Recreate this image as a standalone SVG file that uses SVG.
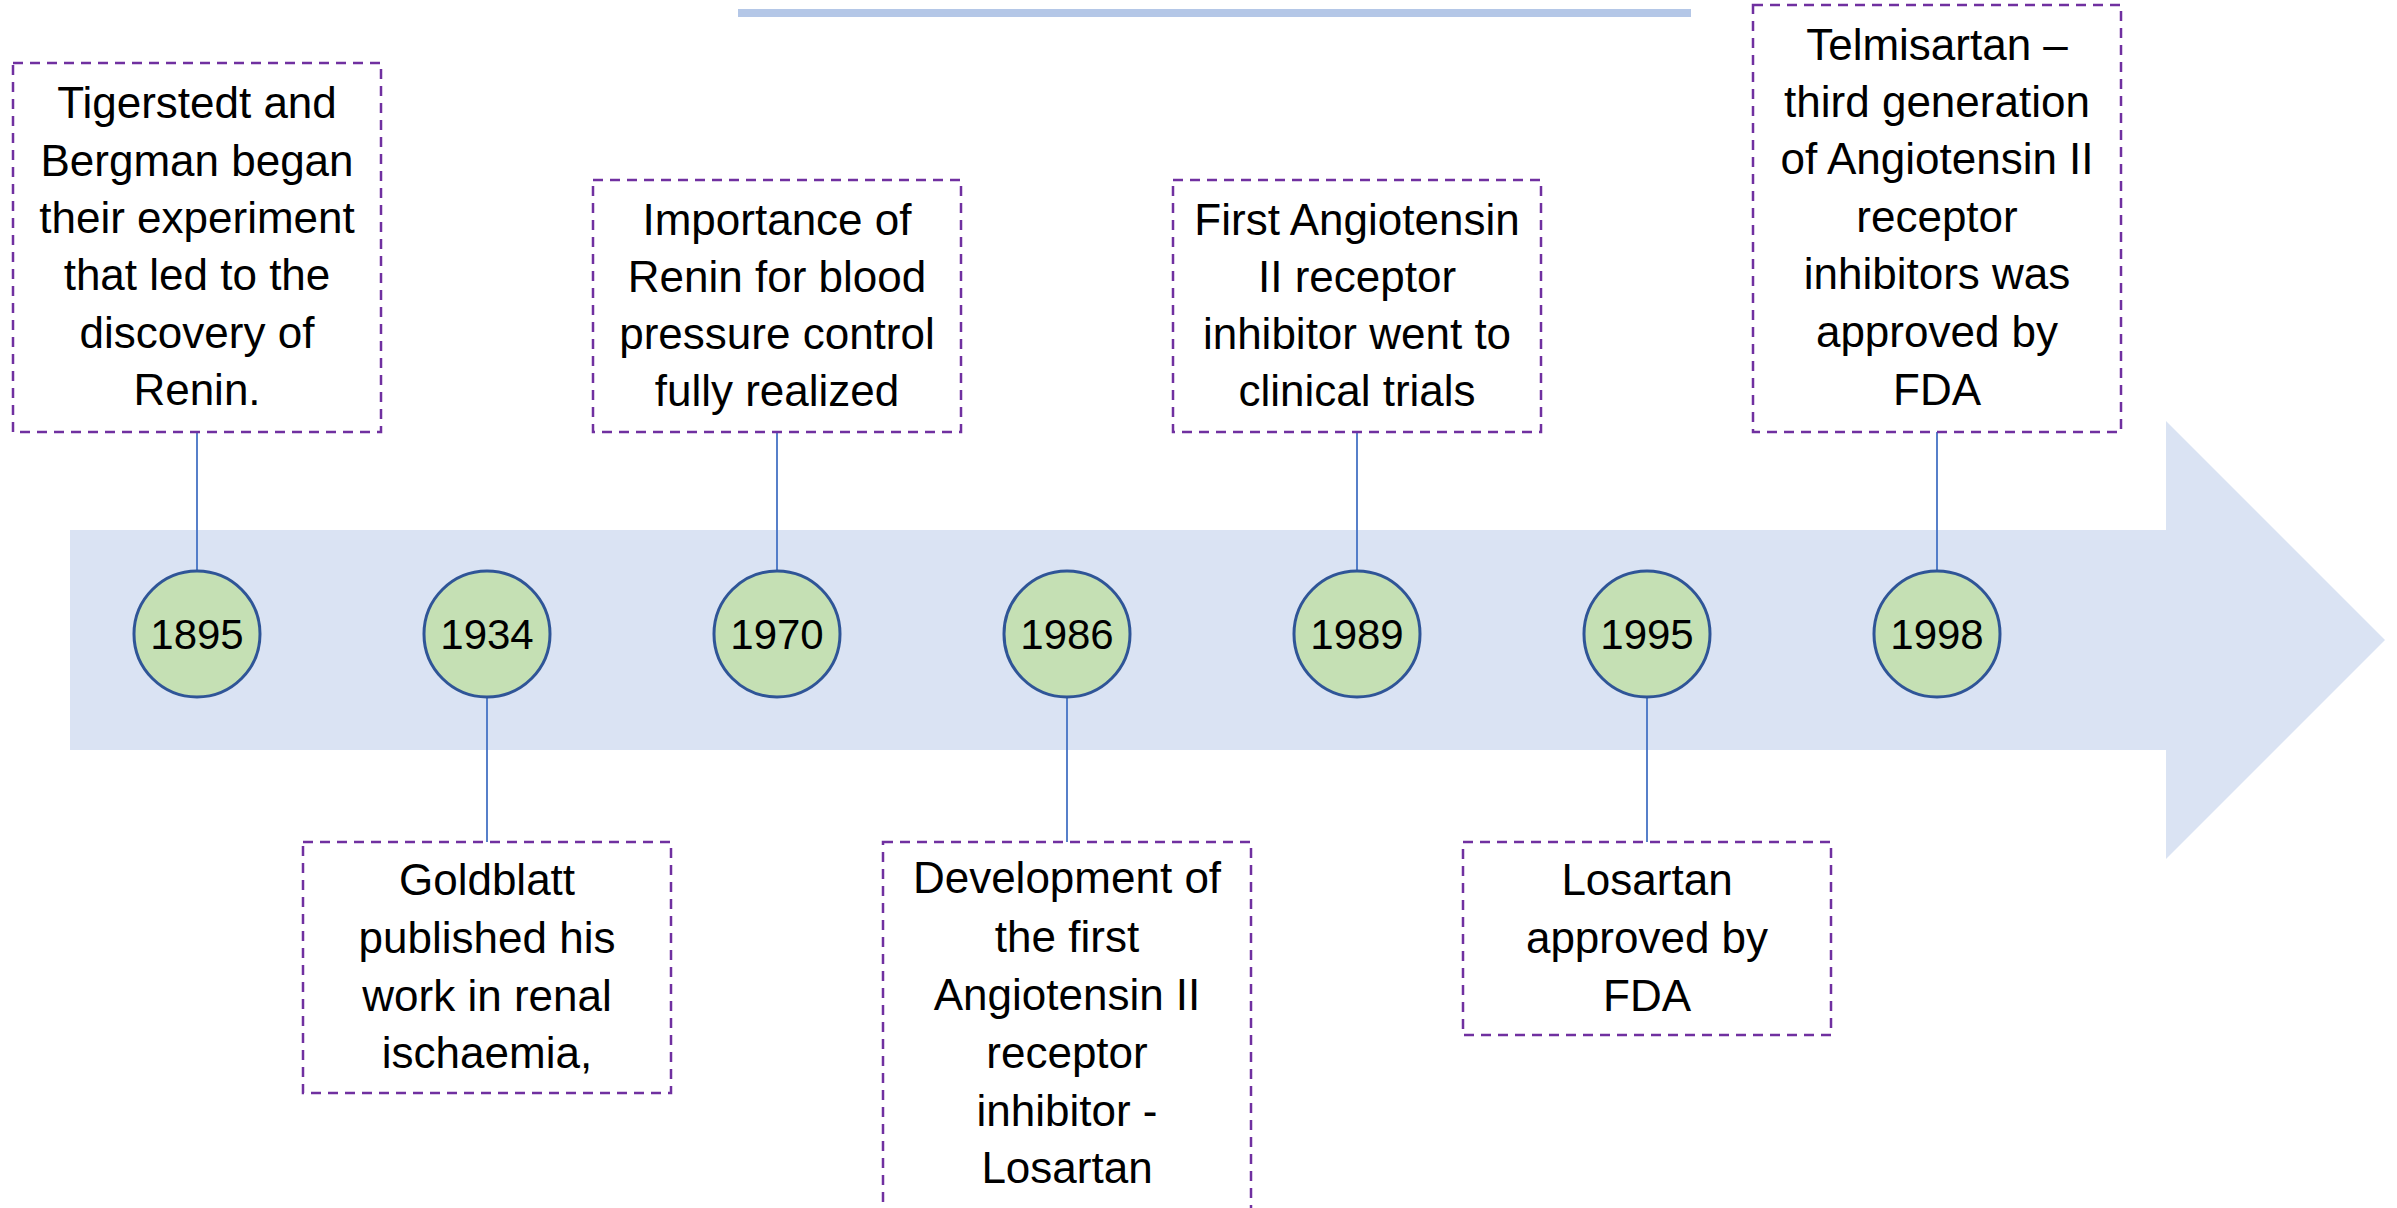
<svg xmlns="http://www.w3.org/2000/svg" width="2397" height="1208" viewBox="0 0 2397 1208">
<style>
.box{fill:#ffffff;stroke:#7030A0;stroke-width:2.5;stroke-dasharray:10 7}
.txt{font-family:"Liberation Sans",Arial,sans-serif;font-size:44px;fill:#000;text-anchor:middle}
.yr{font-family:"Liberation Sans",Arial,sans-serif;font-size:42px;fill:#000;text-anchor:middle}
.dot{fill:#C5E0B4;stroke:#2F5597;stroke-width:3}
.conn{stroke:#4472C4;stroke-width:1.8;fill:none}
</style>
<rect x="0" y="0" width="2397" height="1208" fill="#ffffff"/>
<rect id="topbar" x="738" y="9" width="953" height="8" fill="#B4C7E7"/>
<polygon id="timeline-arrow" points="70,530 2166,530 2166,421 2385,640 2166,859 2166,750 70,750" fill="#DAE3F3"/>
<g id="connectors">
<line class="conn" x1="197" y1="432" x2="197" y2="571"/>
<line class="conn" x1="777" y1="432" x2="777" y2="571"/>
<line class="conn" x1="1357" y1="432" x2="1357" y2="571"/>
<line class="conn" x1="1937" y1="432" x2="1937" y2="571"/>
<line class="conn" x1="487" y1="697" x2="487" y2="842"/>
<line class="conn" x1="1067" y1="697" x2="1067" y2="842"/>
<line class="conn" x1="1647" y1="697" x2="1647" y2="842"/>
</g>
<g id="y1895"><circle class="dot" cx="197" cy="634" r="63"/><text class="yr" x="197" y="649">1895</text></g>
<g id="y1934"><circle class="dot" cx="487" cy="634" r="63"/><text class="yr" x="487" y="649">1934</text></g>
<g id="y1970"><circle class="dot" cx="777" cy="634" r="63"/><text class="yr" x="777" y="649">1970</text></g>
<g id="y1986"><circle class="dot" cx="1067" cy="634" r="63"/><text class="yr" x="1067" y="649">1986</text></g>
<g id="y1989"><circle class="dot" cx="1357" cy="634" r="63"/><text class="yr" x="1357" y="649">1989</text></g>
<g id="y1995"><circle class="dot" cx="1647" cy="634" r="63"/><text class="yr" x="1647" y="649">1995</text></g>
<g id="y1998"><circle class="dot" cx="1937" cy="634" r="63"/><text class="yr" x="1937" y="649">1998</text></g>
<g id="box1895">
<rect class="box" x="13" y="63" width="368" height="369"/>
<text class="txt" x="197" y="118">Tigerstedt and</text>
<text class="txt" x="197" y="176">Bergman began</text>
<text class="txt" x="197" y="233">their experiment</text>
<text class="txt" x="197" y="290">that led to the</text>
<text class="txt" x="197" y="348">discovery of</text>
<text class="txt" x="197" y="405">Renin.</text>
</g>
<g id="box1970">
<rect class="box" x="593" y="180" width="368" height="252"/>
<text class="txt" x="777" y="235">Importance of</text>
<text class="txt" x="777" y="292">Renin for blood</text>
<text class="txt" x="777" y="349">pressure control</text>
<text class="txt" x="777" y="406">fully realized</text>
</g>
<g id="box1989">
<rect class="box" x="1173" y="180" width="368" height="252"/>
<text class="txt" x="1357" y="235">First Angiotensin</text>
<text class="txt" x="1357" y="292">II receptor</text>
<text class="txt" x="1357" y="349">inhibitor went to</text>
<text class="txt" x="1357" y="406">clinical trials</text>
</g>
<g id="box1998">
<rect class="box" x="1753" y="5" width="368" height="427"/>
<text class="txt" x="1937" y="60">Telmisartan –</text>
<text class="txt" x="1937" y="117">third generation</text>
<text class="txt" x="1937" y="174">of Angiotensin II</text>
<text class="txt" x="1937" y="232">receptor</text>
<text class="txt" x="1937" y="289">inhibitors was</text>
<text class="txt" x="1937" y="347">approved by</text>
<text class="txt" x="1937" y="405">FDA</text>
</g>
<g id="box1934">
<rect class="box" x="303" y="842" width="368" height="251"/>
<text class="txt" x="487" y="895">Goldblatt</text>
<text class="txt" x="487" y="953">published his</text>
<text class="txt" x="487" y="1011">work in renal</text>
<text class="txt" x="487" y="1068">ischaemia,</text>
</g>
<g id="box1986">
<rect class="box" x="883" y="842" width="368" height="390"/>
<text class="txt" x="1067" y="893">Development of</text>
<text class="txt" x="1067" y="952">the first</text>
<text class="txt" x="1067" y="1010">Angiotensin II</text>
<text class="txt" x="1067" y="1068">receptor</text>
<text class="txt" x="1067" y="1126">inhibitor -</text>
<text class="txt" x="1067" y="1183">Losartan</text>
</g>
<g id="box1995">
<rect class="box" x="1463" y="842" width="368" height="193"/>
<text class="txt" x="1647" y="895">Losartan</text>
<text class="txt" x="1647" y="953">approved by</text>
<text class="txt" x="1647" y="1011">FDA</text>
</g>
</svg>
